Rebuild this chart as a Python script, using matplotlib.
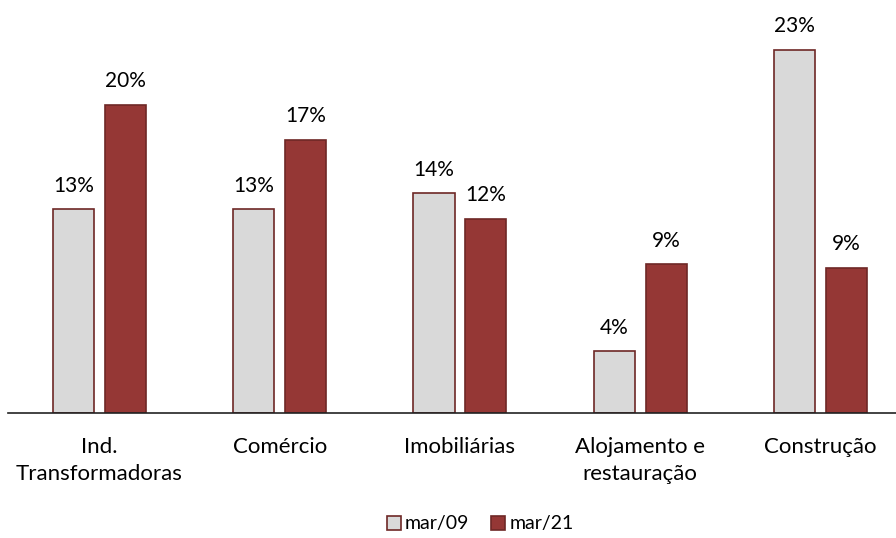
import matplotlib.pyplot as plt
import numpy as np

plt.rcParams['font.family'] = ['Lato', 'DejaVu Sans']

categories = ['Ind.\nTransformadoras', 'Comércio', 'Imobiliárias',
              'Alojamento e\nrestauração', 'Construção']
mar09 = [12.9, 12.9, 13.9, 3.9, 23.0]
mar21 = [19.5, 17.3, 12.3, 9.4, 9.2]
series_names = ['mar/09', 'mar/21']

gray = '#d9d9d9'
red = '#953735'
edge = '#6e2826'

fig = plt.figure(figsize=(8.96, 5.38), dpi=100)
ax = fig.add_axes([8 / 896, 125 / 538, 1 - 8 / 896, 395 / 538])

x = np.arange(len(categories))
off = 0.144
w = 0.228
b1 = ax.bar(x - off, mar09, w, color=gray, edgecolor=edge, linewidth=1.2, label=series_names[0])
b2 = ax.bar(x + off, mar21, w, color=red, edgecolor=edge, linewidth=1.2, label=series_names[1])

for bars, vals in ((b1, mar09), (b2, mar21)):
    for r, v in zip(bars, vals):
        ax.text(r.get_x() + r.get_width() / 2, v + 0.85, '%d%%' % round(v),
                ha='center', va='bottom', fontsize=15)

ax.set_xlim(-0.508, 4.42)
ax.set_ylim(0, 25)
ax.set_yticks([])
ax.set_xticks(x)
ax.set_xticklabels(categories, fontsize=16, linespacing=1.45)
ax.tick_params(axis='x', length=0, pad=17)
for s in ['top', 'right', 'left']:
    ax.spines[s].set_visible(False)
ax.spines['bottom'].set_linewidth(1.2)
ax.spines['bottom'].set_color('#222222')

fig.legend(handles=[b1, b2], loc='center', bbox_to_anchor=(480 / 896, 1 - 524 / 538),
           ncol=2, frameon=False, fontsize=14, handlelength=0.75, handleheight=0.75,
           handletextpad=0.2, columnspacing=1.1)

fig.savefig('out.png', dpi=100)
